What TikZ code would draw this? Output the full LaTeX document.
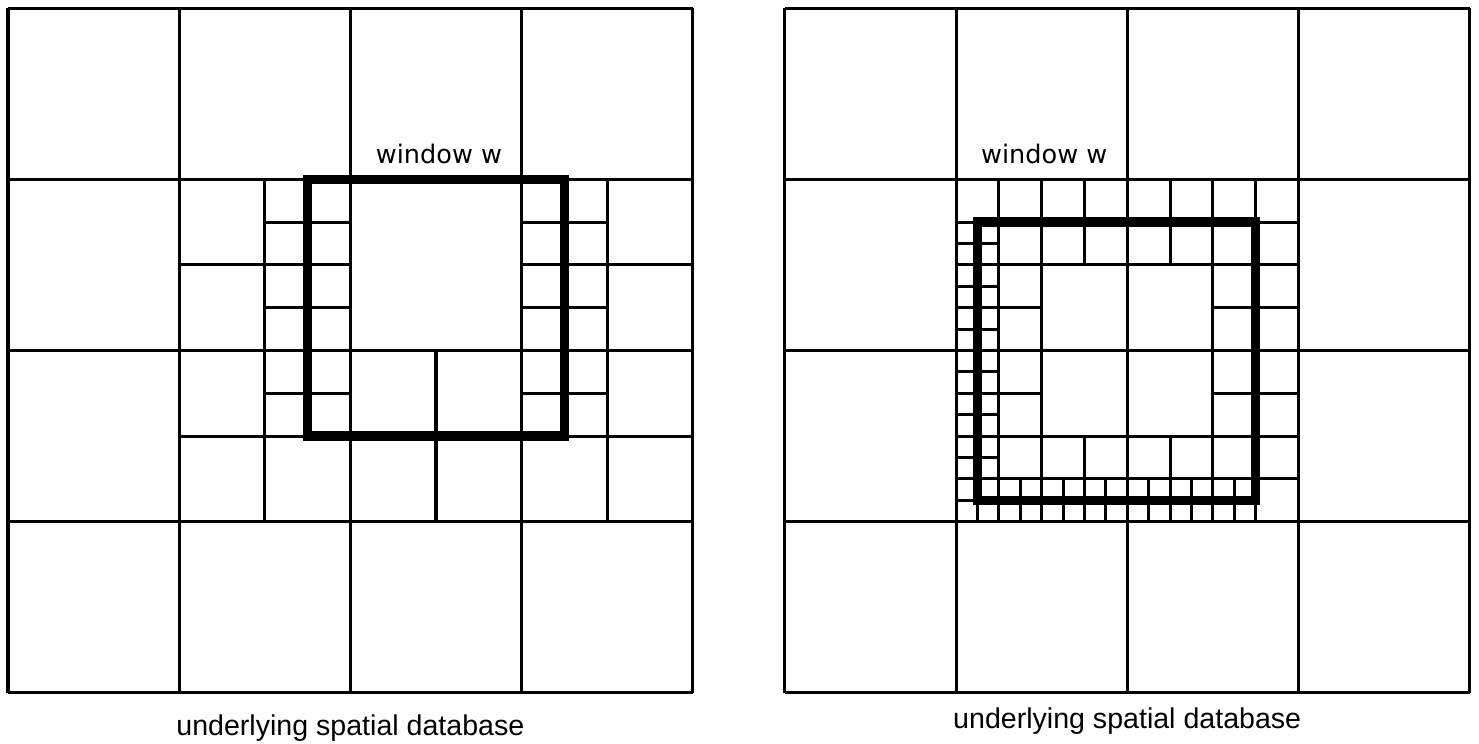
\documentclass[tikz,border=0pt]{standalone}
\usepackage{fontspec}
\setmainfont{Liberation Sans}
\newfontfamily\windowfont{DejaVu Sans}

\begin{document}
\begin{tikzpicture}[
        x=0.5cm, y=0.5cm,
        cellLine/.style={black, line width=1pt},
        windowBox/.style={black, line width=3.2pt},
        windowLabel/.style={font={\windowfont\fontsize{8.5}{10}\selectfont}, anchor=base},
        captionText/.style={font={\fontsize{9.5}{11}\selectfont}, anchor=base}
    ]
        \useasboundingbox (-0.187,-1.192) rectangle (34.37,16.19);

        % Left database: coarse grid, cells cut where the window edge runs
        \begin{scope}
            \coordinate (Lo) at (0,0);
            \draw[cellLine, step=4] (Lo) grid (16,16);
            \foreach \cx/\cy/\cs in {4/8/4, 4/4/4, 8/4/4, 12/8/4, 12/4/4,
                                     6/10/2, 6/8/2, 6/6/2, 12/10/2, 12/8/2, 12/6/2}
                \draw[cellLine] (\cx+\cs/2,\cy) -- ++(0,\cs) (\cx,\cy+\cs/2) -- ++(\cs,0);
            \draw[windowBox] (7,6) rectangle (13,12);
            \node[windowLabel] (winL) at (10.07,12.38) {window w};
            \node[captionText] (capL) at (8,-1.0) {underlying spatial database};
        \end{scope}

        % Right database: window shifted, finer cells along its border
        \begin{scope}[shift={(18.15,0)}]
            \coordinate (Ro) at (0,0);
            \draw[cellLine, step=4] (Ro) grid (16,16);
            \foreach \cx/\cy/\cs in {4/8/4, 8/8/4, 4/4/4, 8/4/4,
                                     4/10/2, 6/10/2, 4/8/2, 8/10/2, 10/10/2, 10/8/2,
                                     4/6/2, 4/4/2, 6/4/2, 10/6/2, 8/4/2, 10/4/2,
                                     4/10/1, 4/9/1, 4/8/1, 4/7/1, 4/6/1, 4/5/1, 4/4/1,
                                     5/4/1, 6/4/1, 7/4/1, 8/4/1, 9/4/1, 10/4/1}
                \draw[cellLine] (\cx+\cs/2,\cy) -- ++(0,\cs) (\cx,\cy+\cs/2) -- ++(\cs,0);
            \draw[windowBox] (4.5,4.5) rectangle (11,11);
            \node[windowLabel] (winR) at (6.06,12.38) {window w};
            \node[captionText] (capR) at (8,-0.84) {underlying spatial database};
        \end{scope}

    \end{tikzpicture}
\end{document}
